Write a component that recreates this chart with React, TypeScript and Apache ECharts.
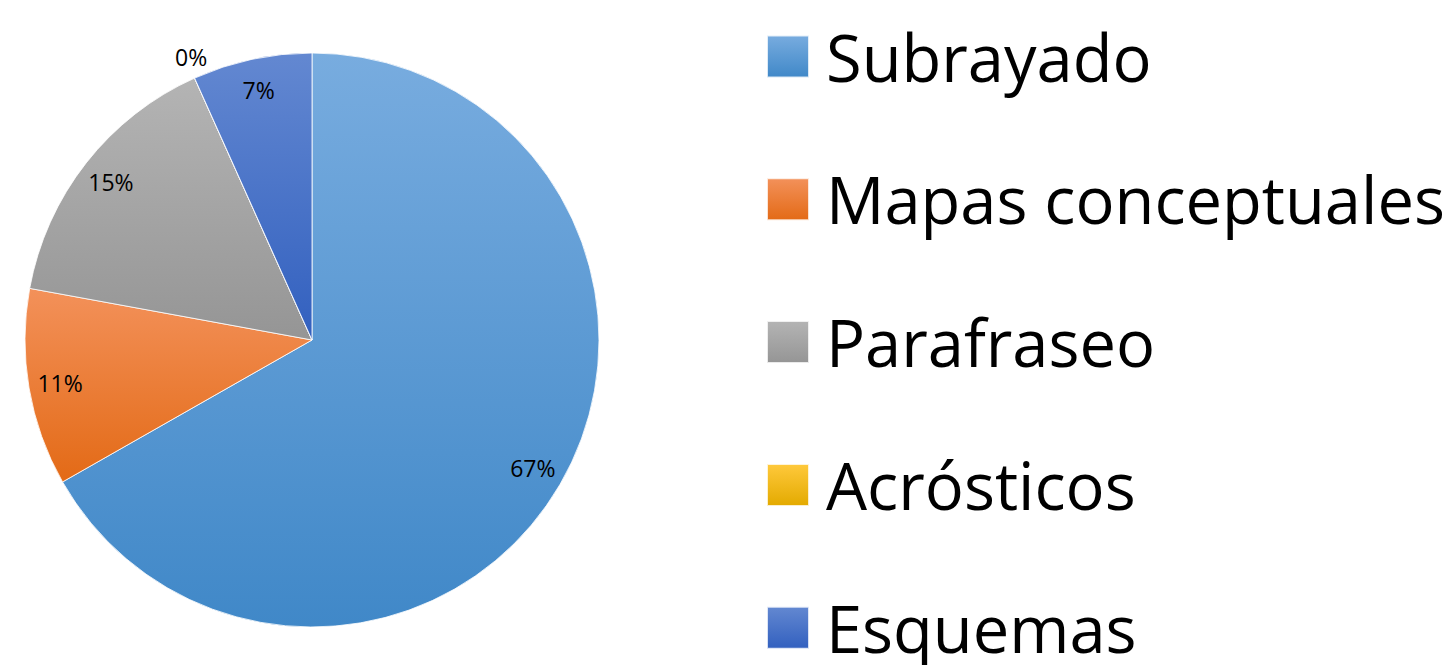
import React, { useEffect, useRef } from "react";
import * as echarts from "echarts";

const categories = ["Subrayado", "Mapas conceptuales", "Parafraseo", "Acrósticos", "Esquemas"];
const values = [66.7, 11.1, 15.4, 0, 6.7];
const topColors = ["#78ACDF", "#F3915A", "#B4B4B4", "#FFC93C", "#6388D1"];
const bottomColors = ["#4088C8", "#E36A16", "#959595", "#E3AA00", "#3260BF"];

const grad = (i: number) =>
  new echarts.graphic.LinearGradient(0, 0, 0, 1, [
    { offset: 0, color: topColors[i] },
    { offset: 1, color: bottomColors[i] },
  ]);

const FONT = "'Open Sans', 'Noto Sans', sans-serif";

export default function App() {
  const ref = useRef<HTMLDivElement>(null);
  useEffect(() => {
    document.body.style.margin = "0";
    const chart = echarts.init(ref.current!, null, { renderer: "svg" });
    const center = [312, 340];
    const labelFmt = (p: any) => Math.round(p.percent) + "%";
    chart.setOption({
      animation: false,
      backgroundColor: "#ffffff",
      legend: {
        orient: "vertical",
        left: 766,
        top: 24,
        width: 685,
        height: 800,
        padding: 0,
        itemWidth: 42,
        itemHeight: 42,
        itemGap: 77.8,
        icon: "rect",
        selectedMode: false,
        data: categories.map((name, i) => ({ name, itemStyle: { color: grad(i) } })),
        textStyle: {
          fontFamily: FONT,
          fontSize: 65,
          color: "#000",
          padding: [0, 0, 0, 12],
        },
      },
      series: [
        {
          type: "pie",
          center,
          radius: [0, 287],
          startAngle: 90,
          clockwise: true,
          silent: true,
          avoidLabelOverlap: false,
          label: { show: false },
          labelLine: { show: false },
          data: categories.map((name, i) => ({
            name,
            value: values[i],
            itemStyle: { color: grad(i), borderColor: "rgba(255,255,255,0.8)", borderWidth: 1 },
          })),
        },
        {
          type: "pie",
          center,
          radius: [218, 287],
          startAngle: 90,
          clockwise: true,
          silent: true,
          avoidLabelOverlap: false,
          itemStyle: { color: "rgba(0,0,0,0)", borderWidth: 0 },
          label: {
            show: true,
            position: "inside",
            formatter: labelFmt,
            fontFamily: FONT,
            fontSize: 23,
            color: "#000",
          },
          labelLine: { show: false },
          data: categories.map((name, i) => ({
            name,
            value: values[i],
            label: { show: values[i] > 0 },
          })),
        },
        {
          type: "pie",
          center,
          radius: [298, 316],
          startAngle: 90,
          clockwise: true,
          silent: true,
          avoidLabelOverlap: false,
          itemStyle: { color: "rgba(0,0,0,0)", borderWidth: 0 },
          label: {
            show: true,
            position: "inside",
            formatter: labelFmt,
            fontFamily: FONT,
            fontSize: 23,
            color: "#000",
          },
          labelLayout: { dx: 6 },
          labelLine: { show: false },
          data: categories.map((name, i) => ({
            name,
            value: values[i],
            label: { show: values[i] === 0 },
          })),
        },
      ],
    });
    return () => chart.dispose();
  }, []);
  return <div ref={ref} style={{ width: 1451, height: 665 }} />;
}
